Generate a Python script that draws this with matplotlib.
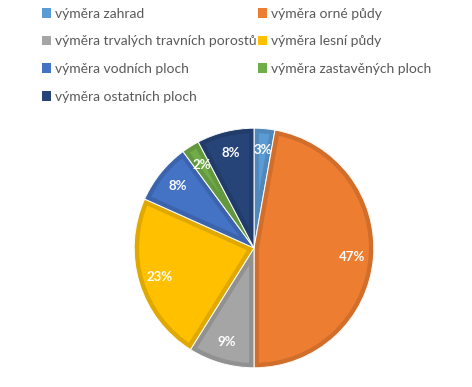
import matplotlib.pyplot as plt
from matplotlib.patches import Patch, Wedge
import matplotlib.colors as mcolors

# data
labels = ['výměra zahrad', 'výměra orné půdy', 'výměra trvalých travních porostů',
          'výměra lesní půdy', 'výměra vodních ploch', 'výměra zastavěných ploch',
          'výměra ostatních ploch']
values = [2.8, 47.2, 8.9, 22.8, 8.2, 2.4, 7.7]
colors = ['#5B9BD5', '#ED7D31', '#A5A5A5', '#FFC000', '#4472C4', '#70AD47', '#264478']

plt.rcParams['font.family'] = ['Lato', 'DejaVu Sans']


def darker(c, f=0.88):
    r, g, b = mcolors.to_rgb(c)
    return (r * f, g * f, b * f)


fig = plt.figure(figsize=(4.72, 3.87), dpi=100)
W, H = 472, 387
cx, cy, R = 254, 248, 121
ax = fig.add_axes([(cx - R) / W, (H - cy - R) / H, 2 * R / W, 2 * R / H])

wedges, texts, autotexts = ax.pie(values, colors=colors, startangle=90, counterclock=False,
                                  autopct='%1.0f%%', pctdistance=0.82,
                                  wedgeprops=dict(linewidth=0),
                                  textprops=dict(color='white', fontsize=9.5, fontweight='bold'))

# bevel-like darker inner border + thin white separator
for w, c in zip(wedges, colors):
    border = Wedge(w.center, w.r, w.theta1, w.theta2,
                   facecolor='none', edgecolor=darker(c), linewidth=7)
    ax.add_patch(border)
    border.set_clip_path(w)
    sep = Wedge(w.center, w.r, w.theta1, w.theta2,
                facecolor='none', edgecolor='white', linewidth=0.7)
    ax.add_patch(sep)
for t in autotexts:
    t.set_zorder(5)
ax.set_xlim(-1.01, 1.01)
ax.set_ylim(-1.01, 1.01)
ax.set_aspect('equal')

handles = [Patch(facecolor=c, edgecolor='none') for c in colors]
order = [0, 2, 4, 6, 1, 3, 5]
leg = fig.legend([handles[i] for i in order], [labels[i] for i in order], ncol=2,
                 loc='upper left', bbox_to_anchor=(29 / W, 1 + 5 / H), frameon=False,
                 fontsize=10, handlelength=0.7, handleheight=0.7, handletextpad=0.25,
                 labelspacing=1.14, columnspacing=0.1, labelcolor='#595959')

fig.savefig('out.png', dpi=100)
